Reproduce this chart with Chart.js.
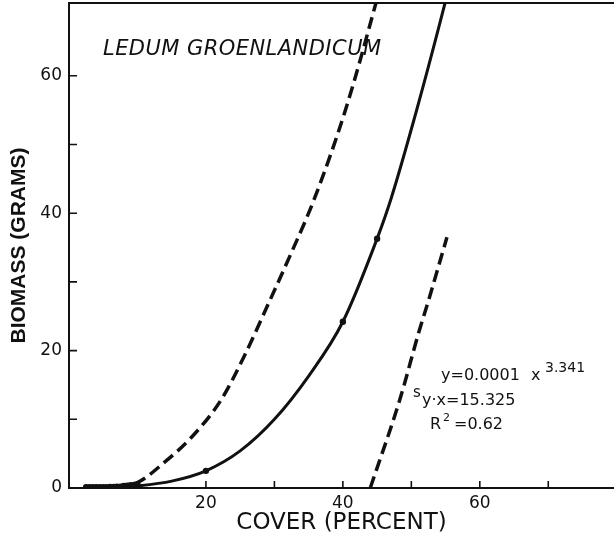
<!DOCTYPE html>
<html>
<head>
<meta charset="utf-8">
<script src="https://cdn.jsdelivr.net/npm/chart.js@4.4.0/dist/chart.umd.min.js"></script>
<style>
  html, body { margin: 0; padding: 0; background: #fff; }
</style>
</head>
<body>
<canvas id="myChart" width="614" height="541"></canvas>
<script>
"use strict";
// solid fitted curve  y = 0.0001 x^3.341
const coverFit = [3, 6, 10, 15, 20, 25, 30, 35, 40, 45, 47, 50.8, 54.9, 55.4];
const biomassFit = [0, 0.03, 0.3, 1.0, 2.5, 5.4, 10, 16.3, 24.2, 36.3, 42, 55.1, 70.5, 72.5];

// upper dashed band
const coverUpper = [7, 10, 14, 18, 22.2, 25.5, 29.2, 32.5, 35.8, 40.4, 44.8, 45.3];
const biomassUpper = [0.2, 0.8, 3.8, 7.5, 12.8, 19, 27, 34.3, 42, 55.1, 70.5, 72.4];

// lower dashed band
const coverLower = [44, 48.3, 51.1, 52.6, 55.2];
const biomassLower = [0, 12.8, 22.7, 27.6, 36.5];

// observed points (dense cluster near the origin)
const coverObs = [2.5, 3, 3.5, 4, 4.5, 5, 5.5, 6, 6.5, 7, 7.5, 8, 8.5, 9, 9.5, 10, 20, 40, 45];
const biomassObs = [0.1, 0.1, 0.1, 0.1, 0.1, 0.1, 0.1, 0.15, 0.15, 0.2, 0.2, 0.3, 0.35, 0.4, 0.45, 0.5, 2.5, 24.2, 36.3];

const xLabels = [20, 40, 60];
const yLabels = [0, 20, 40, 60];

function pairs(xs, ys) {
  return xs.map((x, i) => ({ x: x, y: ys[i] }));
}

const ink = "#111";

const extras = {
  id: "extras",
  afterDraw(chart) {
    const ctx = chart.ctx;
    const area = chart.chartArea;
    const xs = chart.scales.x;
    const ys = chart.scales.y;
    ctx.save();
    ctx.strokeStyle = ink;
    ctx.fillStyle = ink;
    // top frame line
    ctx.lineWidth = 2;
    ctx.beginPath();
    ctx.moveTo(area.left, area.top);
    ctx.lineTo(area.right, area.top);
    ctx.stroke();
    // inward tick marks every 10
    ctx.lineWidth = 1.6;
    ctx.beginPath();
    xs.ticks.forEach((t) => {
      if (t.value > 0 && t.value % 10 === 0) {
        const px = xs.getPixelForValue(t.value);
        ctx.moveTo(px, area.bottom);
        ctx.lineTo(px, area.bottom - 7);
      }
    });
    ys.ticks.forEach((t) => {
      if (t.value > 0 && t.value <= 60 && t.value % 10 === 0) {
        const py = ys.getPixelForValue(t.value);
        ctx.moveTo(area.left, py);
        ctx.lineTo(area.left + 8, py);
      }
    });
    ctx.stroke();

    // species name
    ctx.font = "italic 21px 'DejaVu Sans'";
    ctx.textBaseline = "alphabetic";
    ctx.textAlign = "left";
    ctx.letterSpacing = "0.45px";
    ctx.fillText("LEDUM GROENLANDICUM", 103, 55);
    ctx.letterSpacing = "0px";

    // regression text
    ctx.font = "16px 'DejaVu Sans'";
    ctx.fillText("y=0.0001", 441, 380);
    ctx.fillText("x", 531, 380);
    ctx.font = "14px 'DejaVu Sans'";
    ctx.fillText("3.341", 545, 372);
    ctx.font = "15px 'DejaVu Sans'";
    ctx.fillText("s", 413, 397);
    ctx.font = "16px 'DejaVu Sans'";
    ctx.fillText("y\u00b7x=15.325", 422, 405);
    ctx.fillText("R", 430, 429);
    ctx.fillText("=0.62", 454, 429);
    ctx.font = "11px 'DejaVu Sans'";
    ctx.fillText("2", 443, 421);
    ctx.restore();
  },
};

const ctx = document.getElementById("myChart");

new Chart(ctx, {
  type: "line",
  data: {
    datasets: [
      {
        label: "fit",
        data: pairs(coverFit, biomassFit),
        borderColor: ink,
        borderWidth: 3,
        pointRadius: 0,
        cubicInterpolationMode: "monotone",
        fill: false,
      },
      {
        label: "upper",
        data: pairs(coverUpper, biomassUpper),
        borderColor: ink,
        borderWidth: 3.5,
        borderDash: [12, 6],
        pointRadius: 0,
        cubicInterpolationMode: "monotone",
        fill: false,
      },
      {
        label: "lower",
        data: pairs(coverLower, biomassLower),
        borderColor: ink,
        borderWidth: 3.5,
        borderDash: [12, 6],
        pointRadius: 0,
        cubicInterpolationMode: "monotone",
        fill: false,
      },
      {
        label: "obs",
        data: pairs(coverObs, biomassObs),
        showLine: false,
        pointRadius: 3.2,
        pointBackgroundColor: ink,
        pointBorderColor: ink,
        borderWidth: 0,
      },
    ],
  },
  options: {
    responsive: false,
    animation: false,
    layout: { autoPadding: false, padding: { top: 3, right: 0, left: 0, bottom: 0 } },
    plugins: {
      legend: { display: false },
      tooltip: { enabled: false },
    },
    scales: {
      x: {
        type: "linear",
        min: 0,
        max: 79.6,
        afterFit: (scale) => {
          scale.height = 53;
          scale.paddingLeft = 0;
          scale.paddingRight = 0;
        },
        border: { display: true, color: ink, width: 2 },
        grid: { display: false, drawTicks: false },
        ticks: {
          stepSize: 10,
          padding: 5,
          color: ink,
          maxRotation: 0,
          autoSkip: false,
          includeBounds: false,
          font: { family: "'DejaVu Sans'", size: 17 },
          callback: (v) => (xLabels.includes(v) ? v : ""),
        },
        title: {
          display: true,
          text: "COVER (PERCENT)",
          color: ink,
          padding: { top: 0, bottom: 4 },
          font: { family: "'DejaVu Sans'", size: 23 },
        },
      },
      y: {
        min: 0,
        max: 70.6,
        afterFit: (scale) => {
          scale.width = 69;
          scale.paddingTop = 0;
          scale.paddingBottom = 0;
        },
        border: { display: true, color: ink, width: 2 },
        grid: { display: false, drawTicks: false },
        ticks: {
          stepSize: 10,
          padding: 7,
          color: ink,
          autoSkip: false,
          includeBounds: false,
          font: { family: "'DejaVu Sans'", size: 17 },
          callback: (v) => (yLabels.includes(v) ? v : ""),
        },
        title: {
          display: true,
          text: "BIOMASS (GRAMS)",
          color: ink,
          padding: { top: 7, bottom: 0 },
          font: { family: "'Liberation Sans'", size: 21, weight: "bold" },
        },
      },
    },
  },
  plugins: [extras],
});
</script>
</body>
</html>
